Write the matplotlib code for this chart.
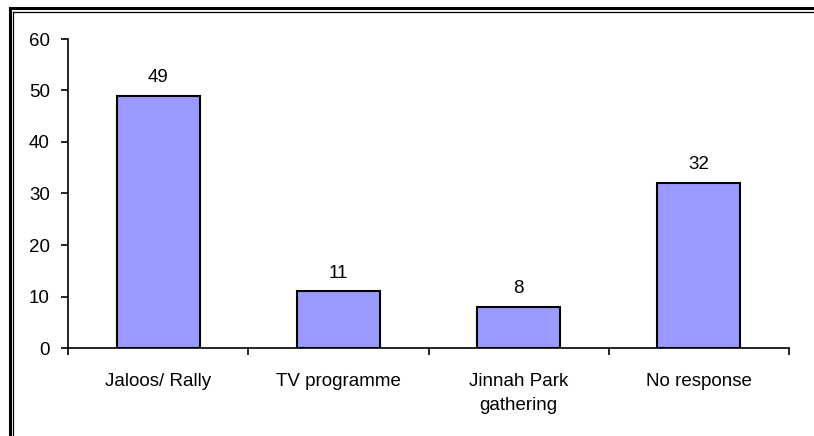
import matplotlib.pyplot as plt
from matplotlib.lines import Line2D
import numpy as np

categories = ['Jaloos/ Rally', 'TV programme', 'Jinnah Park\ngathering', 'No response']
values = [49, 11, 8, 32]
yticks = [0, 10, 20, 30, 40, 50, 60]

plt.rcParams['font.family'] = ['Liberation Sans', 'DejaVu Sans']
FS = 13.5

fig = plt.figure(figsize=(8.14, 4.36), dpi=100)
ax = fig.add_axes([68 / 814, 1 - 348 / 436, (789 - 68) / 814, (348 - 39) / 436])

x = np.arange(len(categories))
bars = ax.bar(x, values, width=0.46, color='#9999FF', edgecolor='black', linewidth=1.5)

for bar, v in zip(bars, values):
    ax.annotate(f'{v}', (bar.get_x() + bar.get_width() / 2, v), xytext=(0, 7),
                textcoords='offset points', ha='center', va='bottom', fontsize=FS)

ax.set_xlim(-0.5, len(categories) - 0.5)
ax.set_ylim(0, 60)
ax.set_yticks(yticks)
ax.tick_params(axis='y', direction='out', length=5, width=1.2, labelsize=FS, pad=8)

# x ticks at category boundaries, labels centred under bars
ax.set_xticks(np.arange(len(categories) + 1) - 0.5)
ax.set_xticklabels([])
ax.set_xticks(x, minor=True)
ax.set_xticklabels(categories, minor=True, fontsize=FS, linespacing=1.5)
ax.tick_params(axis='x', which='major', direction='out', length=5, width=1.2)
ax.tick_params(axis='x', which='minor', length=0, pad=18)

for side in ['top', 'right']:
    ax.spines[side].set_visible(False)
for side in ['left', 'bottom']:
    ax.spines[side].set_linewidth(1.2)

# double border on left and top
W, H = 814, 436
fig.add_artist(Line2D([9.5 / W, 9.5 / W], [0, 1 - 8 / H], color='black', lw=2.2, transform=fig.transFigure))
fig.add_artist(Line2D([9.5 / W, 1], [1 - 8 / H, 1 - 8 / H], color='black', lw=2.2, transform=fig.transFigure))
fig.add_artist(Line2D([13 / W, 13 / W], [0, 1 - 12 / H], color='black', lw=0.9, transform=fig.transFigure))
fig.add_artist(Line2D([13 / W, 1], [1 - 12 / H, 1 - 12 / H], color='black', lw=0.9, transform=fig.transFigure))

fig.savefig('out.png', dpi=100, facecolor='white')
